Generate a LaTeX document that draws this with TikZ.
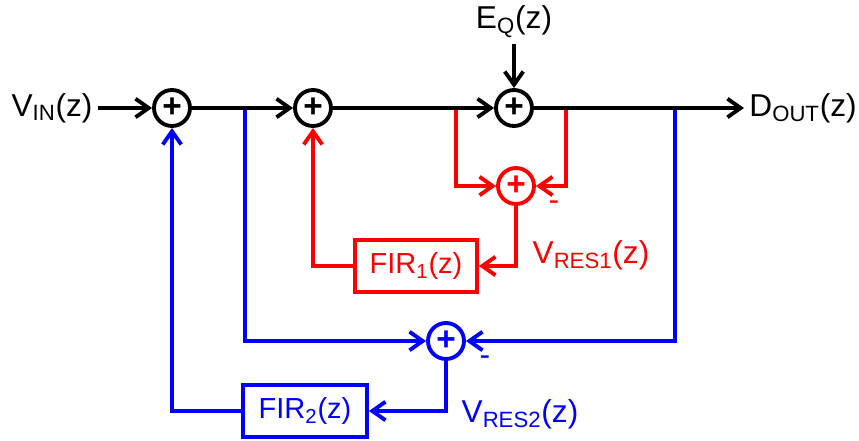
\documentclass[tikz,border=0pt]{standalone}
\usepackage{fontspec}
\setmainfont{Liberation Sans}
\usetikzlibrary{arrows.meta}

\begin{document}
\begin{tikzpicture}[x=0.02cm,y=-0.02cm,line width=2.2pt,
  >={Straight Barb[length=7.5pt,width=10.5pt]},
  sum/.style={draw,circle,minimum size=0.72cm,inner sep=0pt,font=\fontsize{19}{19}\selectfont\bfseries},
  firbox/.style={draw,minimum width=2.44cm,minimum height=1.04cm,inner sep=0pt,font=\fontsize{16.5}{18}\selectfont},
  lbl/.style={font=\fontsize{18}{20}\selectfont,inner sep=2pt}]
\useasboundingbox (0,0) rectangle (859,440);
\foreach \n/\x in {s1/172, s2/313, s3/514}
  \node[sum] (\n) at (\x,108) {+};
\node[lbl] (vin) at (52,108) {V\textsubscript{IN}(z)};
\node[lbl] (eq) at (514,22) {E\textsubscript{Q}(z)};
\node[lbl,anchor=west] (dout) at (744,108) {D\textsubscript{OUT}(z)};
\coordinate (t1) at (456,108);
\coordinate (t2) at (566,108);
\coordinate (t3) at (245,108);
\coordinate (t4) at (675,108);
% red loop
\begin{scope}[red]
\node[sum] (r) at (516,186) {+};
\node[firbox] (fir1) at (416,266) {FIR\textsubscript{1}(z)};
\draw[->] (t1) |- (r);
\draw[->] (t2) |- (r);
\draw[->] (r) |- (fir1);
\draw[->] (fir1) -| (s2);
\node[lbl] (m1) at (554,206) {-};
\node[lbl] (vres1) at (591,255) {V\textsubscript{RES1}(z)};
\end{scope}
% blue loop
\begin{scope}[blue]
\node[sum] (b) at (446,341) {+};
\node[firbox,minimum width=2.48cm] (fir2) at (305,411) {FIR\textsubscript{2}(z)};
\draw[->] (t3) |- (b);
\draw[->] (t4) |- (b);
\draw[->] (b) |- (fir2);
\draw[->] (fir2) -| (s1);
\node[lbl] (m2) at (485,361) {-};
\node[lbl] (vres2) at (520,414) {V\textsubscript{RES2}(z)};
\end{scope}
% main path
\draw[->] (vin) -- (s1);
\draw[->] (s1) -- (s2);
\draw[->] (s2) -- (s3);
\draw[->] (eq) -- (s3);
\draw[->] (s3) -- (dout);
\end{tikzpicture}
\end{document}
